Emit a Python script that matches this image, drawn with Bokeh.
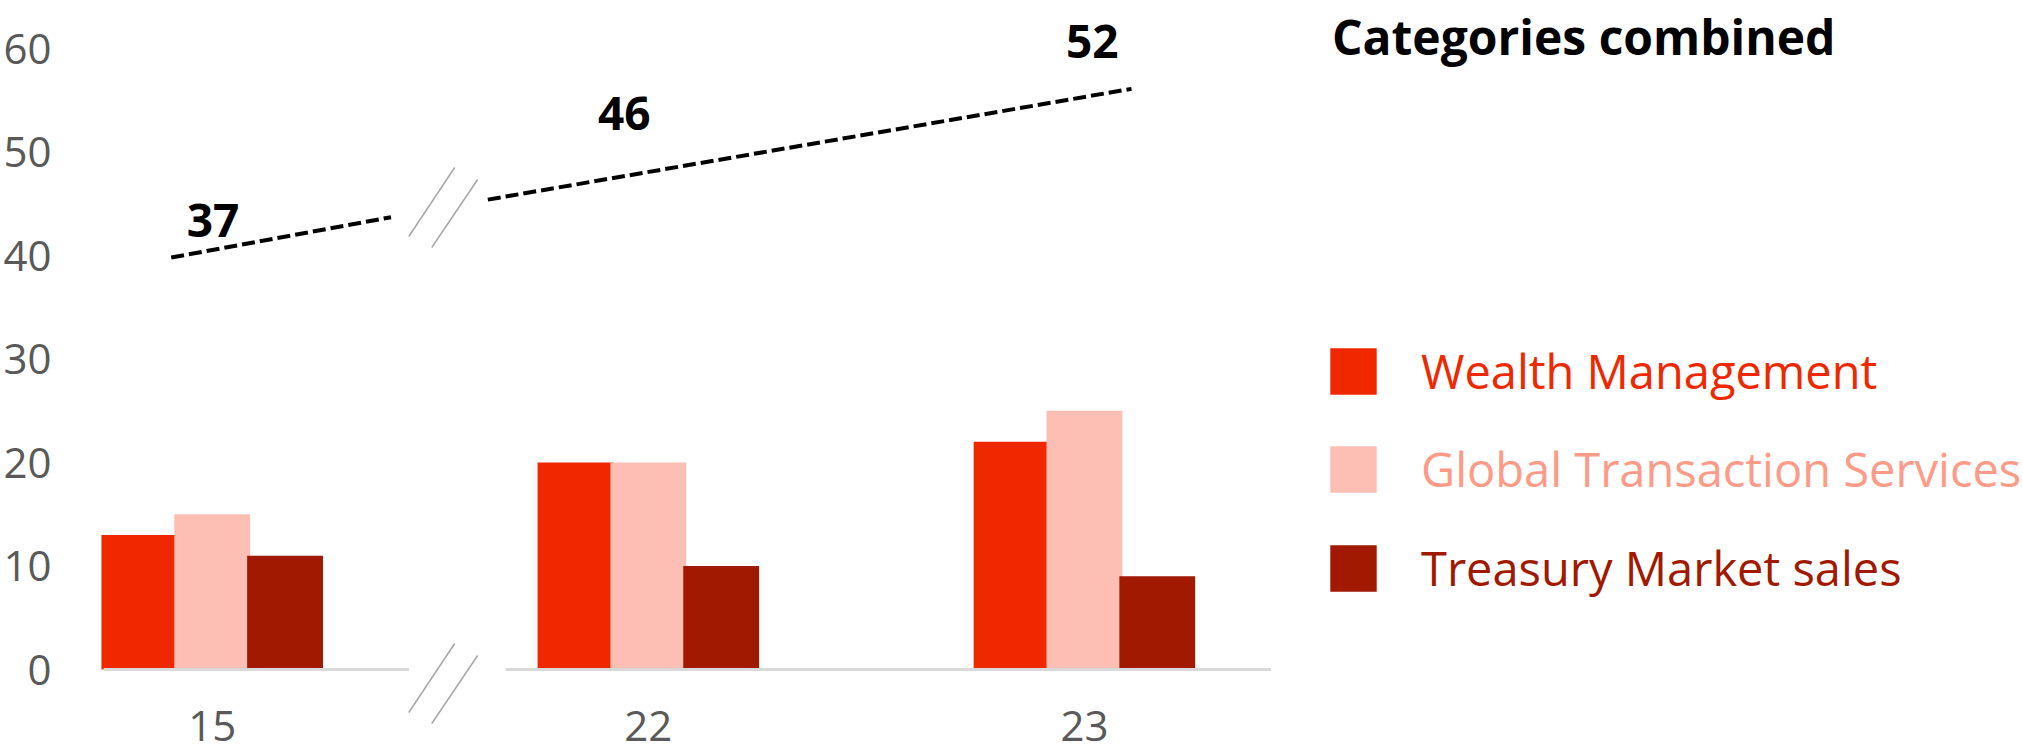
from bokeh.plotting import figure
from bokeh.models import Range1d, FixedTicker, Legend, LegendItem, Label, ColumnDataSource
from bokeh.core.properties import value
from bokeh.transform import dodge
from bokeh.embed import file_html
from bokeh.resources import INLINE

# ---------------- data ----------------
categories = ["15", "22", "23"]
series_names = ["Wealth Management", "Global Transaction Services", "Treasury Market sales"]
wealth = [13, 20, 22]
gts = [15, 20, 25]
treasury = [11, 10, 9]
combined = [37, 46, 52]
# dashed "combined" trend line, broken at the axis gap (x in group units, y in value units)
trend_x = [[-0.094, 0.410], [0.632, 2.108]]
trend_y = [[39.8, 43.7], [45.4, 56.1]]
y_ticks = [0, 10, 20, 30, 40, 50, 60]
title_text = "Categories combined"

# ---------------- layout ----------------
W, H = 2023, 753
L, B = 65, 29
frame_w, frame_h = W - L, H - B
GROUP_PX = 437.0          # px between groups
G0_PX = 208.0             # canvas px of first group centre
Y0_PX = 669.0             # canvas px of value 0
UNIT_PX = 10.35           # px per value unit

def dx(px):               # canvas px -> data x
    return (px - G0_PX) / GROUP_PX

def dy(py):               # canvas px (from top) -> data y
    return (Y0_PX - py) / UNIT_PX

x_range = Range1d(dx(L), dx(W))
y_range = Range1d(dy(frame_h), dy(0))

colors = ["#F02800", "#FDBFB3", "#A01900"]
text_colors = ["#F02800", "#FE9A88", "#A01900"]
grey_text = "#595959"
FONT = "Open Sans"

p = figure(width=W, height=H, x_range=x_range, y_range=y_range,
           output_backend="svg", toolbar_location=None,
           min_border_left=L, min_border_right=0, min_border_top=0, min_border_bottom=B)
p.outline_line_color = None
p.xgrid.visible = False
p.ygrid.visible = False
p.background_fill_color = "white"
p.border_fill_color = "white"

# axes
p.yaxis.ticker = FixedTicker(ticks=y_ticks)
p.xaxis.ticker = FixedTicker(ticks=list(range(len(categories))))
p.xaxis.major_label_overrides = {i: c for i, c in enumerate(categories)}
for ax in (p.xaxis, p.yaxis):
    ax.axis_line_color = None
    ax.major_tick_line_color = None
    ax.minor_tick_line_color = None
    ax.major_label_text_font = FONT
    ax.major_label_text_font_size = "42px"
    ax.major_label_text_color = grey_text
p.yaxis.major_label_standoff = 12
p.xaxis.major_label_standoff = -20   # labels tucked up so the frame can hold the lower break marks

src = ColumnDataSource(dict(x=list(range(len(categories))), wm=wealth, gts=gts, tms=treasury))
BAR_W = 76 / GROUP_PX
OFF = 73 / GROUP_PX

r_wm = p.vbar(x=dodge("x", -OFF, range=p.x_range), top="wm", bottom=0, width=BAR_W, source=src,
              fill_color=colors[0], line_color=None)
r_gts = p.vbar(x=dodge("x", 0, range=p.x_range), top="gts", bottom=0, width=BAR_W, source=src,
               fill_color=colors[1], line_color=None)
r_tms = p.vbar(x=dodge("x", OFF, range=p.x_range), top="tms", bottom=0, width=BAR_W, source=src,
               fill_color=colors[2], line_color=None)

# baseline, broken at the gap
p.segment(x0=[0 - 0.249, 1 - 0.327], x1=[0 + 0.451, 2 + 0.428], y0=[0, 0], y1=[0, 0],
          line_color="#D9D9D9", line_width=3)

# break marks (top pair on the trend line, bottom pair on the baseline)
brk = "#A6A6A6"
marks = [(405, 236, 451, 167), (428, 247, 474, 179), (405, 712, 451, 643), (428, 723, 474, 655)]
p.segment(x0=[dx(m[0]) for m in marks], y0=[dy(m[1]) for m in marks],
          x1=[dx(m[2]) for m in marks], y1=[dy(m[3]) for m in marks],
          line_color=brk, line_width=1.5)

# dashed combined line
p.multi_line(xs=trend_x, ys=trend_y, line_color="black", line_width=4, line_dash="13 5")

# combined value labels
lab_x = [0 + 0.002, 1 - 0.055, 2 + 0.018]
lab_y = [dy(220), dy(113), dy(41)]
p.text(x=lab_x, y=lab_y, text=[str(v) for v in combined], text_align="center", text_baseline="middle",
       text_font=value(FONT), text_font_style="bold", text_font_size="46px", text_color="black")

# title (kept just inside the top edge)
p.add_layout(Label(x=dx(1330), y=dy(36), text=title_text, text_font=FONT, text_font_style="bold",
                   text_font_size="48px", text_color="black", text_baseline="alphabetic"))

# legends (one per series, each with its own text colour)
GW = 58                   # legend glyph box; bokeh insets the swatch by 10% on each side
INSET = 6
rows_bottom = [397, 495, 594]
for r, name, tc, yb in zip([r_wm, r_gts, r_tms], series_names, text_colors, rows_bottom):
    leg = Legend(items=[LegendItem(label=name, renderers=[r])],
                 location=(1326 - INSET - L, frame_h - (yb + INSET)),
                 glyph_width=GW, glyph_height=GW, label_height=GW,
                 label_standoff=1417 - (1326 - INSET) - GW,
                 label_text_font=FONT, label_text_font_size="47px", label_text_color=tc,
                 padding=0, margin=0, spacing=0, border_line_color=None, background_fill_alpha=0)
    p.add_layout(leg)

open("out.html", "w").write(file_html(p, INLINE))
